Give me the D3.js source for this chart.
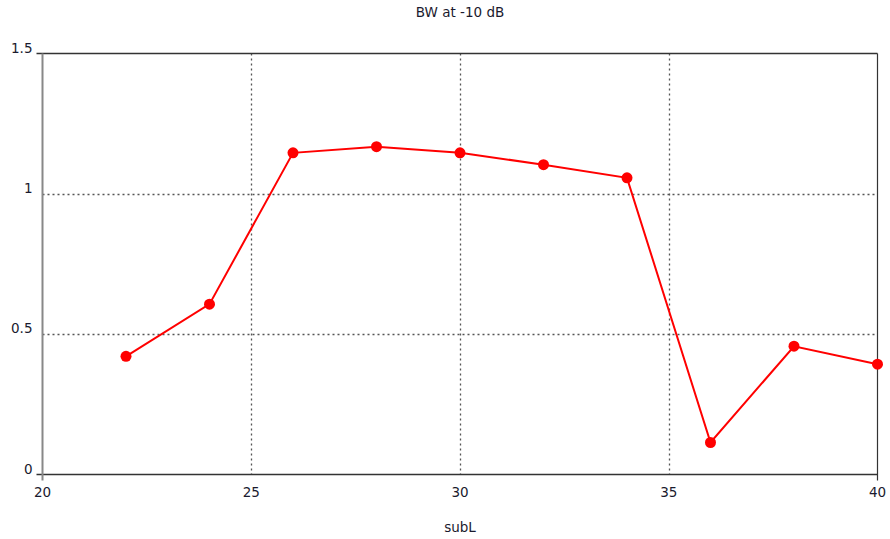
<!DOCTYPE html>
<meta charset="utf-8">
<style>
body { margin: 0; background: #fff; }
text { font-family: "DejaVu Sans", Tahoma, sans-serif; font-size: 13.5px; fill: #1a1a2e; }
.grid line { stroke: #555; stroke-dasharray: 2,3; stroke-width: 1.3; }
</style>
<body>
<script src="https://d3js.org/d3.v7.min.js"></script>
<script>
// data
var subL = [22, 24, 26, 28, 30, 32, 34, 36, 38, 40];
var bw = [0.421, 0.607, 1.146, 1.168, 1.146, 1.104, 1.057, 0.114, 0.457, 0.393];
var xTicks = [20, 25, 30, 35, 40];
var yTicks = [0, 0.5, 1, 1.5];
var yTickLabels = ["0", "0.5", "1", "1.5"];

var width = 890, height = 539;
// plot box (window.top is reserved, so use pTop etc.)
var pLeft = 42.5, pRight = 877.5, pTop = 53.5, pBottom = 474.5;

var x = d3.scaleLinear().domain([20, 40]).range([pLeft, pRight]);
var y = d3.scaleLinear().domain([0, 1.5]).range([pBottom, pTop]);

var svg = d3.select("body").append("svg")
    .attr("width", width)
    .attr("height", height);

// dotted grid at inner ticks
var grid = svg.append("g").attr("class", "grid");
grid.selectAll(".gx")
    .data(xTicks.slice(1, -1))
  .enter().append("line")
    .attr("x1", function(d) { return Math.round(x(d)) + 0.5; })
    .attr("x2", function(d) { return Math.round(x(d)) + 0.5; })
    .attr("y1", pTop).attr("y2", pBottom);
grid.selectAll(".gy")
    .data(yTicks.slice(1, -1))
  .enter().append("line")
    .attr("x1", pLeft).attr("x2", pRight)
    .attr("y1", function(d) { return Math.round(y(d)) + 0.5; })
    .attr("y2", function(d) { return Math.round(y(d)) + 0.5; });

// frame: top, right, bottom dark, left grey
svg.append("line").attr("x1", pLeft - 6).attr("x2", pRight).attr("y1", pTop).attr("y2", pTop)
    .attr("stroke", "#333").attr("stroke-width", 1.5);
svg.append("line").attr("x1", pLeft - 6).attr("x2", pRight).attr("y1", pBottom).attr("y2", pBottom)
    .attr("stroke", "#333").attr("stroke-width", 1.5);
svg.append("line").attr("x1", pRight).attr("x2", pRight).attr("y1", pTop).attr("y2", pBottom + 6)
    .attr("stroke", "#333").attr("stroke-width", 1.2);
svg.append("line").attr("x1", pLeft).attr("x2", pLeft).attr("y1", pTop).attr("y2", pBottom + 6)
    .attr("stroke", "#888").attr("stroke-width", 2);

// tick labels
svg.selectAll(".xl")
    .data(xTicks)
  .enter().append("text")
    .attr("x", function(d) { return x(d); })
    .attr("y", pBottom + 22)
    .attr("text-anchor", "middle")
    .text(function(d) { return d; });
svg.selectAll(".yl")
    .data(yTicks)
  .enter().append("text")
    .attr("x", pLeft - 10)
    .attr("y", function(d) { return y(d) - 1; })
    .attr("text-anchor", "end")
    .text(function(d, i) { return yTickLabels[i]; });

// titles
svg.append("text").attr("x", 460).attr("y", 17).attr("text-anchor", "middle").text("BW at -10 dB");
svg.append("text").attr("x", 460).attr("y", 532).attr("text-anchor", "middle").text("subL");

// series
var line = d3.line()
    .x(function(d, i) { return x(subL[i]); })
    .y(function(d) { return y(d); });
svg.append("path")
    .datum(bw)
    .attr("d", line)
    .attr("fill", "none")
    .attr("stroke", "#ff0000")
    .attr("stroke-width", 2);
svg.selectAll(".pt")
    .data(bw)
  .enter().append("circle")
    .attr("cx", function(d, i) { return x(subL[i]); })
    .attr("cy", function(d) { return y(d); })
    .attr("r", 5.5)
    .attr("fill", "#ff0000");
</script>
